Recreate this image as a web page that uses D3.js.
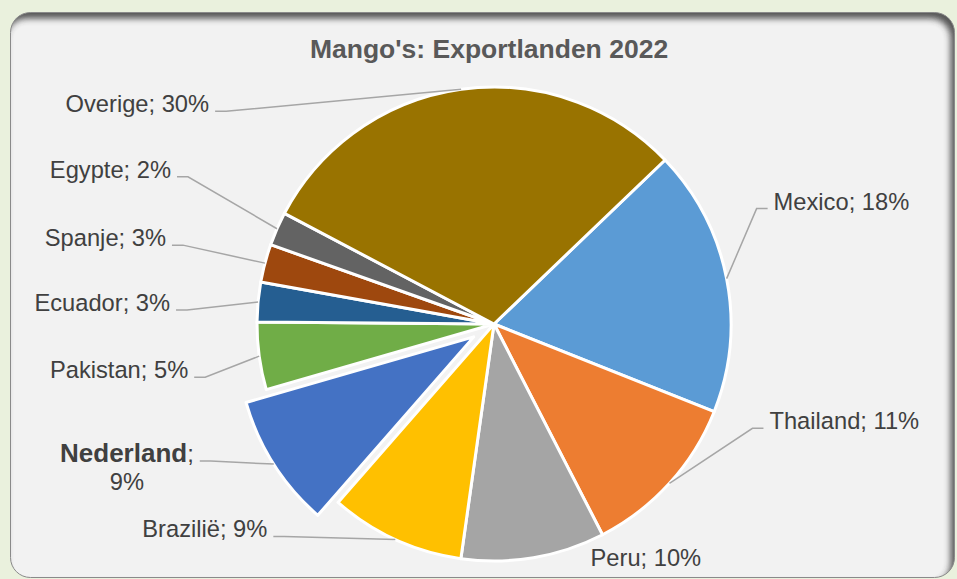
<!DOCTYPE html>
<html>
<head>
<meta charset="utf-8">
<script src="https://cdn.jsdelivr.net/npm/d3@7"></script>
<style>
  body { margin: 0; background: #eaf1dd; }
  svg { display: block; font-family: "Liberation Sans", Arial, sans-serif; }
</style>
</head>
<body>
<div id="chart"></div>
<script>
// Data (share of mango exports, %)
const chartTitle = "Mango's: Exportlanden 2022";
const countries = ["Mexico", "Thailand", "Peru", "Brazilië", "Nederland", "Pakistan", "Ecuador", "Spanje", "Egypte", "Overige"];
const shares = [18.2, 11.4, 9.8, 9.2, 9.1, 4.6, 2.7, 2.6, 2.3, 30.1];
const sliceColors = ["#5b9bd5", "#ed7d31", "#a5a5a5", "#ffc000", "#4472c4", "#70ad47", "#255e91", "#9e480e", "#636363", "#997300"];
const highlighted = "Nederland";

// Layout: where each label sits, relative to the point on the pie edge it points at
const labelOffsets = [[41, -70], [94, -55], [57, 7], [-122, -3], [-74, -3], [-65, 21], [-82, 8], [-93, -18], [-100, -52], [-246, 22]];
const noLeader = ["Peru"];

const width = 957, height = 579;
const cx = 494, cy = 324, radius = 237, explode = 24;
const startAngle = 46.2 * Math.PI / 180;

const svg = d3.select("#chart")
    .append("svg")
    .attr("width", width)
    .attr("height", height);

const defs = svg.append("defs");
defs.append("clipPath").attr("id", "panelClip")
    .append("rect")
    .attr("x", 10.5).attr("y", 12.5)
    .attr("width", 944).attr("height", 565)
    .attr("rx", 20);
const blur = defs.append("filter").attr("id", "soft")
    .attr("x", -0.1).attr("y", -0.1).attr("width", 1.2).attr("height", 1.2);
blur.append("feGaussianBlur").attr("stdDeviation", 3);

// outer background
svg.append("rect")
    .attr("width", width).attr("height", height)
    .attr("fill", "#eaf1dd");

// chart panel with inner shadow on top/right
svg.append("rect")
    .attr("x", 10.5).attr("y", 12.5)
    .attr("width", 944).attr("height", 565)
    .attr("rx", 20)
    .attr("fill", "#f2f2f2");

svg.append("g")
    .attr("clip-path", "url(#panelClip)")
    .append("path")
    .attr("d", "M-100,-100H1100V700H-100Z " +
        "M30.5,12.5H934.5A20,20 0 0 1 954.5,32.5V557.5A20,20 0 0 1 934.5,577.5H30.5A20,20 0 0 1 10.5,557.5V32.5A20,20 0 0 1 30.5,12.5Z")
    .attr("fill-rule", "evenodd")
    .attr("fill", "#3a3a3a")
    .attr("opacity", 0.85)
    .attr("transform", "translate(-4,6)")
    .attr("filter", "url(#soft)");

svg.append("rect")
    .attr("x", 10.5).attr("y", 12.5)
    .attr("width", 944).attr("height", 565)
    .attr("rx", 20)
    .attr("fill", "none")
    .attr("stroke", "#8a8a8a")
    .attr("stroke-width", 1);

// title
svg.append("text")
    .attr("x", 489)
    .attr("y", 58)
    .attr("text-anchor", "middle")
    .attr("font-size", "26.5px")
    .attr("font-weight", "bold")
    .attr("fill", "#595959")
    .text(chartTitle);

const total = d3.sum(shares);
const pie = d3.pie()
    .sort(null)
    .value(d => d)
    .startAngle(startAngle)
    .endAngle(startAngle + 2 * Math.PI);
const arcs = pie(shares);

const arc = d3.arc().innerRadius(0).outerRadius(radius);
const edge = d3.arc().innerRadius(radius).outerRadius(radius);

function shift(d, i) {
    if (countries[i] !== highlighted) return [0, 0];
    const mid = (d.startAngle + d.endAngle) / 2;
    return [Math.sin(mid) * explode, -Math.cos(mid) * explode];
}

const g = svg.append("g")
    .attr("transform", "translate(" + cx + "," + cy + ")");

g.selectAll("path.slice")
    .data(arcs)
    .enter()
    .append("path")
    .attr("class", "slice")
    .attr("d", arc)
    .attr("transform", (d, i) => "translate(" + shift(d, i) + ")")
    .attr("fill", (d, i) => sliceColors[i])
    .attr("stroke", "#ffffff")
    .attr("stroke-width", 3)
    .attr("stroke-linejoin", "round");

// labels with leader lines
const labels = g.append("g");
arcs.forEach(function(d, i) {
    const s = shift(d, i);
    const p = edge.centroid(d);
    const ex = p[0] + s[0], ey = p[1] + s[1];
    const lx = ex + labelOffsets[i][0], ly = ey + labelOffsets[i][1];
    const left = labelOffsets[i][0] < 0;
    const pct = Math.round(shares[i] / total * 100) + "%";
    const name = countries[i];

    if (noLeader.indexOf(name) < 0) {
        const elbow = left ? lx + 11 : lx - 11;
        labels.append("path")
            .attr("d", "M" + ex + "," + ey + "L" + elbow + "," + ly + "L" + lx + "," + ly)
            .attr("fill", "none")
            .attr("stroke", "#a6a6a6")
            .attr("stroke-width", 1.5);
    }

    const tx = noLeader.indexOf(name) < 0 ? (left ? lx - 6 : lx + 6) : lx;
    const t = labels.append("text")
        .attr("x", tx)
        .attr("y", ly + 1)
        .attr("text-anchor", left ? "end" : "start")
        .attr("font-size", "23.7px")
        .attr("fill", "#404040");

    if (name === highlighted) {
        t.append("tspan").attr("font-weight", "bold").attr("font-size", "26px").text(name);
        t.append("tspan").text(";");
        const w = t.node().getComputedTextLength();
        labels.append("text")
            .attr("x", tx - w / 2)
            .attr("y", ly + 29)
            .attr("text-anchor", "middle")
            .attr("font-size", "23.7px")
            .attr("fill", "#404040")
            .text(pct);
    } else {
        t.text(name + "; " + pct);
    }
});
</script>
</body>
</html>
